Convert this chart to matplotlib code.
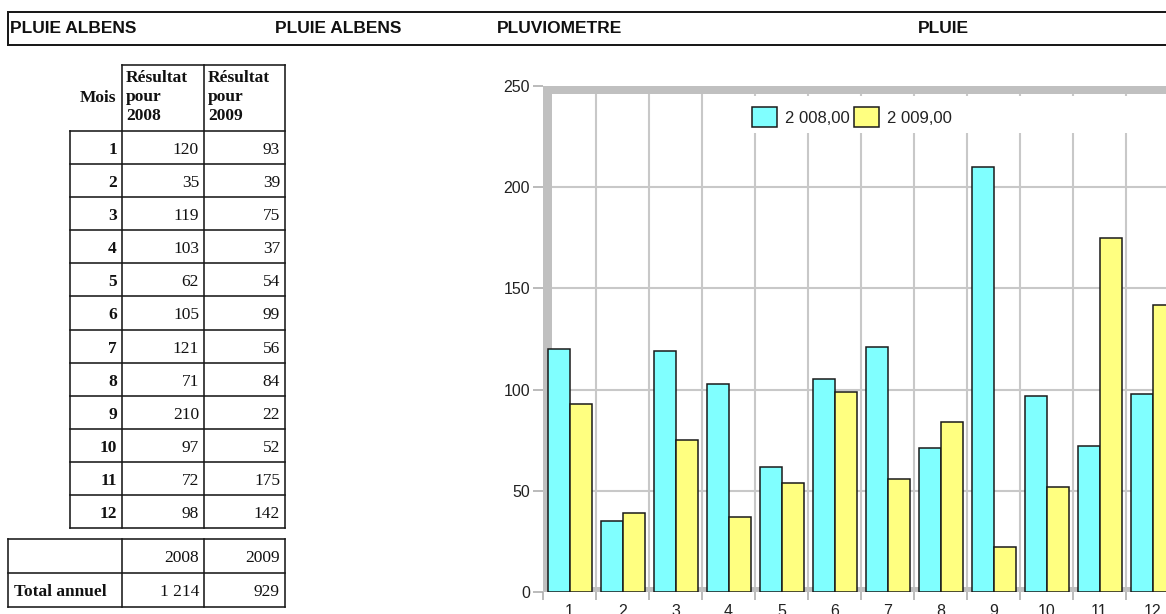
import numpy as np
import matplotlib
matplotlib.use('Agg')
import matplotlib.pyplot as plt
from matplotlib.patches import Rectangle
from matplotlib.lines import Line2D

# ---------------- data ----------------
months = [1, 2, 3, 4, 5, 6, 7, 8, 9, 10, 11, 12]
rain_2008 = [120, 35, 119, 103, 62, 105, 121, 71, 210, 97, 72, 98]
rain_2009 = [93, 39, 75, 37, 54, 99, 56, 84, 22, 52, 175, 142]
years = ['2008', '2009']
totals = [1214, 929]
legend_labels = ['2 008,00', '2 009,00']
header_titles = ['PLUIE ALBENS', 'PLUIE ALBENS', 'PLUVIOMETRE', 'PLUIE']
header_x = [10, 275, 497, 918]
yticks = [0, 50, 100, 150, 200, 250]

W, H = 1166, 614
fig = plt.figure(figsize=(W / 100, H / 100), dpi=100)


def fx(x):
    return x / W


def fy(y):
    return 1 - y / H


LC = '#1a1a1a'


def seg(x0, y0, x1, y1, lw=1.6, color=LC):
    fig.add_artist(Line2D([fx(x0), fx(x1)], [fy(y0), fy(y1)],
                          transform=fig.transFigure, lw=lw * 0.72,
                          color=color, solid_capstyle='projecting'))


SANS = ['Liberation Sans', 'DejaVu Sans']
SERIF = ['Liberation Serif', 'DejaVu Serif']

# ---------------- header bar ----------------
seg(8, 12, 1170, 12, lw=2)
seg(8, 45, 1170, 45, lw=2)
seg(8, 12, 8, 45, lw=2)
for t, x in zip(header_titles, header_x):
    fig.text(fx(x), fy(28.5), t, family=SANS, fontsize=12.5, fontweight='bold',
             ha='left', va='center', color='#111')


def fmt(v):
    return f"{v:,}".replace(',', ' ')


# ---------------- top table ----------------
TFS = 12.5
top_h = 65
row0 = 131
rh = (528 - 131) / 12
# header
seg(122, top_h, 285, top_h)
for xx in [122, 204, 285]:
    seg(xx, top_h, xx, 528)
seg(70, row0, 70, 528)
for k in range(13):
    seg(70, row0 + rh * k, 285, row0 + rh * k)
fig.text(fx(116), fy(102), 'Mois', family=SERIF, fontsize=TFS, fontweight='bold',
         ha='right', va='baseline', color='#111')
for j, yr in enumerate(years):
    x0 = [126, 208][j]
    for line, yb in zip(['Résultat', 'pour', yr], [82, 101, 120]):
        fig.text(fx(x0), fy(yb), line, family=SERIF, fontsize=TFS, fontweight='bold',
                 ha='left', va='baseline', color='#111')
for k, m in enumerate(months):
    yb = row0 + rh * k + rh / 2 + 6.5
    fig.text(fx(117), fy(yb), str(m), family=SERIF, fontsize=TFS, fontweight='bold',
             ha='right', va='baseline', color='#111')
    fig.text(fx(199), fy(yb), fmt(rain_2008[k]), family=SERIF, fontsize=TFS,
             ha='right', va='baseline', color='#111')
    fig.text(fx(280), fy(yb), fmt(rain_2009[k]), family=SERIF, fontsize=TFS,
             ha='right', va='baseline', color='#111')

# ---------------- bottom table ----------------
for yy in [539, 573, 607]:
    seg(8, yy, 285, yy)
for xx in [8, 122, 204, 285]:
    seg(xx, 539, xx, 607)
fig.text(fx(199), fy(562.5), years[0], family=SERIF, fontsize=TFS,
         ha='right', va='baseline', color='#111')
fig.text(fx(280), fy(562.5), years[1], family=SERIF, fontsize=TFS,
         ha='right', va='baseline', color='#111')
fig.text(fx(14), fy(596.5), 'Total annuel', family=SERIF, fontsize=TFS, fontweight='bold',
         ha='left', va='baseline', color='#111')
fig.text(fx(199), fy(596.5), fmt(totals[0]), family=SERIF, fontsize=TFS,
         ha='right', va='baseline', color='#111')
fig.text(fx(280), fy(596.5), fmt(totals[1]), family=SERIF, fontsize=TFS,
         ha='right', va='baseline', color='#111')

# ---------------- chart ----------------
GW = 53.0  # px per group
ax_l, ax_r, ax_t, ax_b = 543, 543 + GW * 12, 86, 592
ax = fig.add_axes([fx(ax_l), fy(ax_b), (ax_r - ax_l) / W, (ax_b - ax_t) / H])
ax.set_xlim(-0.5, 11.5)
ax.set_ylim(0, 250)
ppu = (ax_b - ax_t) / 250.0
for s in ax.spines.values():
    s.set_visible(False)

x = np.arange(len(months))
bw = 22 / GW
b1 = ax.bar(x - bw / 2, rain_2008, bw, color='#80ffff', edgecolor=LC, lw=1.1, zorder=3)
b2 = ax.bar(x + bw / 2, rain_2009, bw, color='#ffff80', edgecolor=LC, lw=1.1, zorder=3)

GRID = '#c8c8c8'
WALL = '#c0c0c0'
ax.set_yticks(yticks)
ax.set_xticks(x)
ax.set_xticklabels([str(m) for m in months])
ax.set_xticks(np.arange(-0.5, 12, 1), minor=True)
ax.grid(axis='y', which='major', color=GRID, lw=1.5, zorder=1)
ax.grid(axis='x', which='minor', color=GRID, lw=1.5, zorder=1)
ax.set_axisbelow(True)
ax.axvspan(-0.5, -0.5 + 9 / GW, color=WALL, lw=0, zorder=2)
ax.axhspan(250 - 8 / ppu, 250, color=WALL, lw=0, zorder=2)
ax.axhspan(0, 5 / ppu, color=WALL, lw=0, zorder=2)

ax.tick_params(axis='y', length=7.2, width=1.1, color='#a8a8a8', labelcolor='#222',
               labelsize=11.5, pad=2.2)
ax.tick_params(axis='x', which='major', length=0, labelcolor='#222', labelsize=11.5, pad=9)
ax.tick_params(axis='x', which='minor', length=5.8, width=1.1, color='#a8a8a8')
for lab in ax.get_xticklabels() + ax.get_yticklabels():
    lab.set_family(SANS)

# legend background
ax.add_patch(Rectangle((fx(750), fy(133)), (1180 - 750) / W, 37 / H,
                       transform=fig.transFigure, facecolor='white', edgecolor='none',
                       zorder=2.5, clip_on=False))
LFS = 12
em = LFS * 100 / 72
ax.legend([b1, b2], legend_labels, loc='upper left',
          bbox_to_anchor=(fx(752), fy(107)), bbox_transform=fig.transFigure,
          ncol=2, frameon=False, borderpad=0, borderaxespad=0,
          handlelength=25 / em, handleheight=25 / em, handletextpad=8 / em,
          columnspacing=4 / em, prop={'family': SANS, 'size': LFS},
          labelcolor='#222')

fig.savefig('out.png', dpi=100)
